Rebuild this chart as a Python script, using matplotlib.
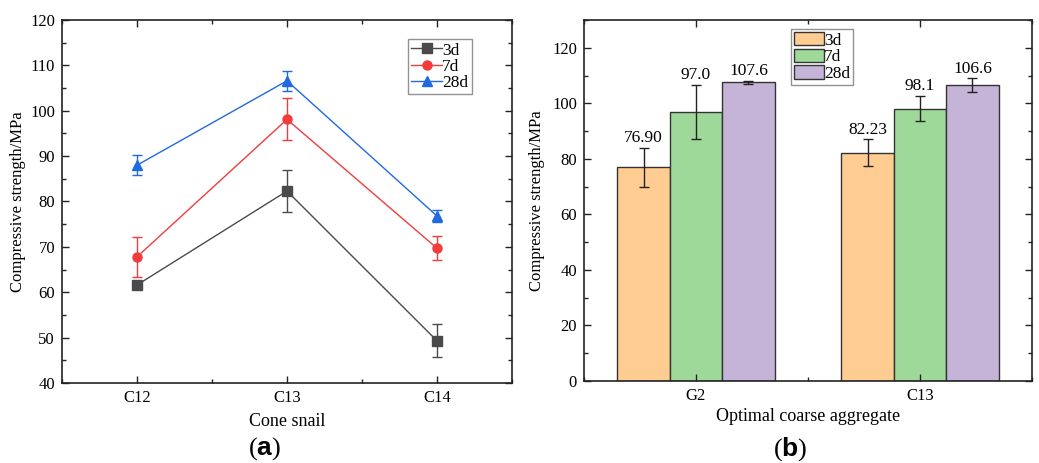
import matplotlib.pyplot as plt
import numpy as np
from matplotlib.ticker import MultipleLocator

plt.rcParams['font.family'] = 'Liberation Serif'
plt.rcParams['mathtext.fontset'] = 'custom'
plt.rcParams['mathtext.rm'] = 'Liberation Serif'
plt.rcParams['mathtext.bf'] = 'Liberation Sans:bold'

# (a) cone snail data
snails = ['C12', 'C13', 'C14']
a_3d = [61.6, 82.3, 49.3]
a_3d_err = [0.6, 4.7, 3.6]
a_7d = [67.8, 98.1, 69.7]
a_7d_err = [4.4, 4.6, 2.6]
a_28d = [88.0, 106.6, 76.8]
a_28d_err = [2.2, 2.2, 1.4]

# (b) optimal coarse aggregate data
groups = ['G2', 'C13']
b_3d = [76.90, 82.23]
b_3d_err = [7.1, 4.8]
b_7d = [97.0, 98.1]
b_7d_err = [9.7, 4.6]
b_28d = [107.6, 106.6]
b_28d_err = [0.6, 2.4]
b_labels = [['76.90', '82.23'], ['97.0', '98.1'], ['107.6', '106.6']]

fig = plt.figure(figsize=(10.39, 4.63), dpi=100)
ax1 = fig.add_axes([62/1039, 1-383/463, 450/1039, 363/463])
ax2 = fig.add_axes([584/1039, 1-381/463, 448/1039, 361/463])

x = np.arange(1, len(snails) + 1)
series = [(a_3d, a_3d_err, '#4a4a4a', 's', '3d'),
          (a_7d, a_7d_err, '#f23c3c', 'o', '7d'),
          (a_28d, a_28d_err, '#1f6ae0', '^', '28d')]
for vals, err, c, m, lab in series:
    ax1.errorbar(x, vals, yerr=err, color=c, fmt='none',
                 elinewidth=1.0, capsize=3.5, capthick=1.0)
    ax1.plot(x, vals, color=c, marker=m, markersize=6.5, linewidth=1.0,
             label=lab)
ax1.set_xlim(0.5, 3.5)
ax1.set_ylim(40, 120)
ax1.set_xticks(x)
ax1.set_xticklabels(snails)
ax1.xaxis.set_minor_locator(MultipleLocator(0.5))
ax1.yaxis.set_major_locator(MultipleLocator(10))
ax1.yaxis.set_minor_locator(MultipleLocator(5))
ax1.set_xlabel('Cone snail', fontsize=13, labelpad=5)
ax1.set_ylabel('Compressive strength/MPa', fontsize=12, labelpad=3)
leg1 = ax1.legend(loc='upper right', bbox_to_anchor=(0.911, 0.948), fontsize=12.5,
                  handlelength=1.8, handletextpad=0.0, borderpad=0.2,
                  labelspacing=0.0, fancybox=False, borderaxespad=0)
leg1.get_frame().set_edgecolor('#777777')

# (b) bars
w = 0.234
xb = np.arange(1, len(groups) + 1)
bar_series = [(b_3d, b_3d_err, '#ffcc91', '3d', -w),
              (b_7d, b_7d_err, '#9fd99a', '7d', 0),
              (b_28d, b_28d_err, '#c5b3d8', '28d', w)]
for i, (vals, err, c, lab, off) in enumerate(bar_series):
    ax2.bar(xb + off, vals, width=w, color=c, edgecolor='#333333', linewidth=1.0,
            label=lab, yerr=err, error_kw=dict(ecolor='#222222', elinewidth=1.0,
                                               capsize=3.5, capthick=1.0))
    for j in range(len(groups)):
        ax2.text(xb[j] + off, vals[j] + err[j] + 0.6, b_labels[i][j],
                 ha='center', va='bottom', fontsize=12.5)
ax2.set_xlim(0.5, 2.5)
ax2.set_ylim(0, 130)
ax2.set_xticks(xb)
ax2.set_xticklabels(groups)
ax2.xaxis.set_minor_locator(MultipleLocator(0.5))
ax2.yaxis.set_major_locator(MultipleLocator(20))
ax2.yaxis.set_minor_locator(MultipleLocator(10))
ax2.set_xlabel('Optimal coarse aggregate', fontsize=13, labelpad=3)
ax2.set_ylabel('Compressive strength/MPa', fontsize=12, labelpad=5)
leg2 = ax2.legend(loc='upper left', bbox_to_anchor=(0.462, 0.975), fontsize=12.5,
                  handlelength=1.75, handleheight=0.85, handletextpad=0.0,
                  borderpad=0.15, labelspacing=0.0, fancybox=False, borderaxespad=0)
leg2.get_frame().set_edgecolor('#777777')

for ax in (ax1, ax2):
    ax.tick_params(which='both', direction='in', top=True, right=True,
                   labelsize=12, width=1.0, color='#222222')
    ax.tick_params(which='major', length=5, pad=5)
    ax.tick_params(which='minor', length=3)
    for s in ax.spines.values():
        s.set_linewidth(1.2)
        s.set_color('#222222')

fig.text(265/1039, 1-449/463, r'$\mathrm{(}\mathbf{a}\mathrm{)}$', ha='center',
         va='center', fontsize=19)
fig.text(790/1039, 1-449/463, r'$\mathrm{(}\mathbf{b}\mathrm{)}$', ha='center',
         va='center', fontsize=19)

fig.savefig('out.png', dpi=100)
